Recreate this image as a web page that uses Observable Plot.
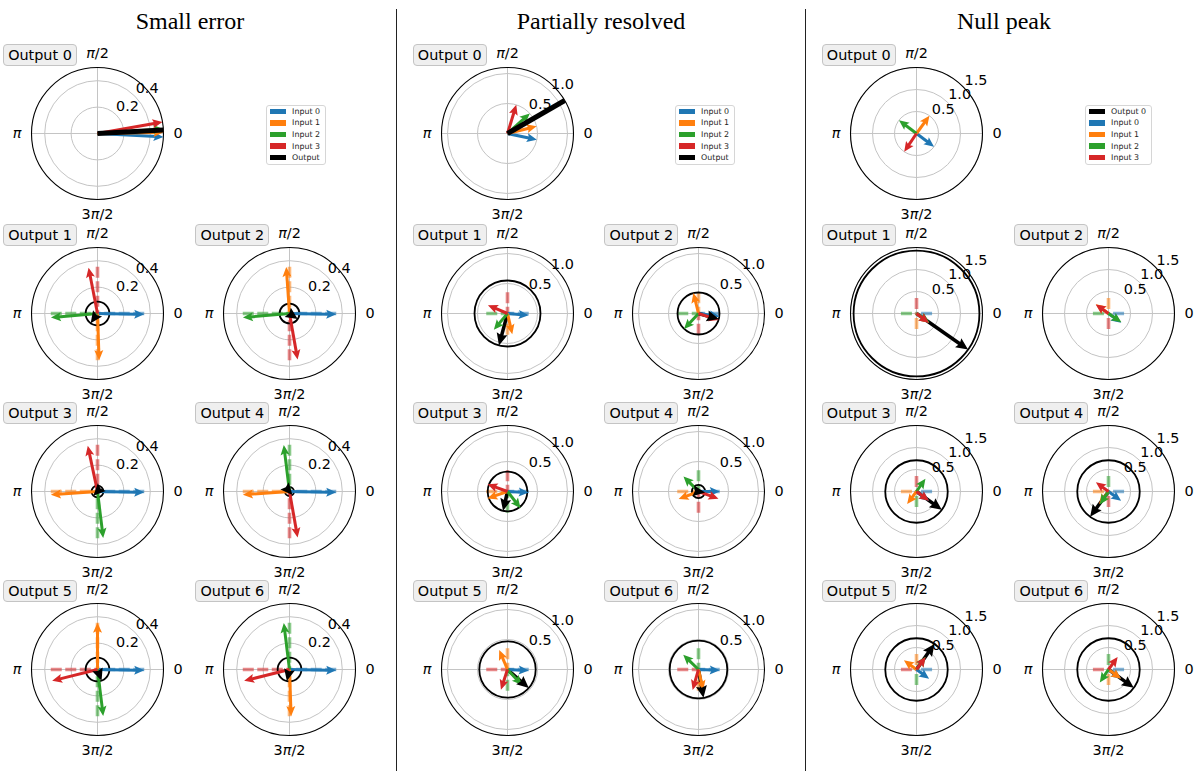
<!DOCTYPE html>
<html><head><meta charset="utf-8">
<script src="https://cdn.jsdelivr.net/npm/d3@7"></script>
<script src="https://cdn.jsdelivr.net/npm/@observablehq/plot@0.6"></script>
<style>
html,body{margin:0;padding:0;background:#fff;}
#fig{position:relative;width:1200px;height:777px;overflow:hidden;font-family:"DejaVu Sans",sans-serif;}
.title{position:absolute;top:8px;line-height:26px;font-family:"Liberation Serif",serif;font-size:24px;transform:translateX(-50%);white-space:nowrap;color:#000;}
.sep{position:absolute;top:9px;height:762px;width:1.2px;background:#222;}
.olabel{position:absolute;width:72px;height:20px;line-height:20px;border:1px solid #c4c4c4;border-radius:4px;background:#efefef;font-size:14.4px;text-align:center;color:#000;z-index:2;}
.legend{position:absolute;border:1px solid #d6d6d6;border-radius:3px;background:#fff;padding:0 5px 1px 2.3px;font-size:7.9px;color:#222;z-index:2;}
.legend .row{height:11.6px;display:flex;align-items:center;white-space:nowrap;}
.legend .sw{width:16.5px;height:5.5px;margin-right:6px;flex:none;}
</style></head><body><div id="fig"></div>
<script>
// ---------------- data ----------------
const panelTitles = ["Small error", "Partially resolved", "Null peak"];
const outputNames = ["Output 0", "Output 1", "Output 2", "Output 3", "Output 4", "Output 5", "Output 6"];
const inputNames = ["Input 0", "Input 1", "Input 2", "Input 3"];
const inputColors = ["#1f77b4", "#ff7f0e", "#2ca02c", "#d62728"];
const angleTicks = [0, 90, 180, 270];
const angleTickLabels = ["0", "π/2", "π", "3π/2"];

// ideal (target) phase of each input in each output, degrees (Output 0 has none)
const idealPhases = [null, [0, 270, 180, 90], [0, 90, 180, 270], [0, 180, 270, 90], [0, 180, 90, 270], [0, 90, 270, 180], [0, 270, 90, 180]];
const inputAmplitude = [0.5, 0.354, 0.354, 0.354, 0.354, 0.354, 0.354];

// Small error
const smallErrorRMax = 0.5;
const smallErrorTicks = [0.2, 0.4];
const smallErrorPhases = [
  [-3, 1, 4, 10],
  [-1, 272, 185, 101],
  [-1, 94, 185, 280],
  [-1, 184, 277, 102],
  [-1, 184, 97, 280],
  [-1, 90, 277, 194],
  [-1, 272, 97, 194]
];
const smallErrorOutAmp = [1.98, 0.09, 0.075, 0.045, 0.034, 0.09, 0.09];
const smallErrorOutPhase = [3, 235, 326, 225, 311, 290, 257];

// Partially resolved
const partialRMax = 1.1;
const partialTicks = [0.5, 1.0];
const partialPhases = [
  [-12, 14, 42, 73],
  [-5, 283, 230, 157],
  [-8, 104, 227, -18],
  [-3, 199, 308, 160],
  [0, 201, 135, -20],
  [-3, 113, 313, 252],
  [-2, 283, 136, 254]
];
const partialOutAmp = [1.71, 0.55, 0.35, 0.33, 0.11, 0.47, 0.48];
const partialOutPhase = [30, 255, 345, 257, 352, 319, 280];

// Null peak
const nullRMax = 1.5;
const nullTicks = [0.5, 1.0, 1.5];
const nullPhases = [
  [-37, 54, 143, 236],
  [-36, -37, -34, -37],
  [-36, 144, -34, 145],
  [-36, 233, 55, -36],
  [-36, 233, 236, 144],
  [-36, 144, 55, 54],
  [-36, -36, 236, 54]
];
const nullOutAmp = [0, 1.43, 0, 0.71, 0.71, 0.71, 0.71];
const nullOutPhase = [0, -35, 0, -36, 234, 55, -36];

const legendLabelsA = ["Input 0", "Input 1", "Input 2", "Input 3", "Output"];
const legendLabelsB = ["Output 0", "Input 0", "Input 1", "Input 2", "Input 3"];

// ---------------- layout ----------------
const R = 66, PW = 200, PH = 192;
const rowCY = [133.3, 313.3, 490.7, 669.3];
const colCX = [[97, 289.3], [506.7, 698.3], [915.7, 1108.3]];
const titleX = [190, 601, 1004];
const sepX = [396, 805];
const slot = [[0, 0], [1, 0], [1, 1], [2, 0], [2, 1], [3, 0], [3, 1]];
const GRID = "#c4c4c4";
const mkHead = (L, W, notch) => ({L, sym: {draw(ctx) {
  ctx.moveTo(0, 0); ctx.lineTo(-W / 2, L); ctx.lineTo(0, L * (1 - notch)); ctx.lineTo(W / 2, L); ctx.closePath();
}}});
const HEAD_IN = mkHead(10, 9, 0.2), HEAD_OUT = mkHead(12, 11, 0.15);
const cosd = a => Math.cos(a * Math.PI / 180), sind = a => Math.sin(a * Math.PI / 180);

const groups = [
  {rmax: smallErrorRMax, ticks: smallErrorTicks, phases: smallErrorPhases, outAmp: smallErrorOutAmp, outPhase: smallErrorOutPhase,
   legend: legendLabelsA.map((l, i) => [l, i < 4 ? inputColors[i] : "black"])},
  {rmax: partialRMax, ticks: partialTicks, phases: partialPhases, outAmp: partialOutAmp, outPhase: partialOutPhase,
   legend: legendLabelsA.map((l, i) => [l, i < 4 ? inputColors[i] : "black"])},
  {rmax: nullRMax, ticks: nullTicks, phases: nullPhases, outAmp: nullOutAmp, outPhase: nullOutPhase,
   legend: legendLabelsB.map((l, i) => [l, i === 0 ? "black" : inputColors[i - 1]])}
];

// returns [shaftMarks, headMarks]
function arrow(amp, phase, color, width, head, rmax, s) {
  const clipped = amp > rmax;
  const tip = Math.min(amp, rmax);
  const shaft = clipped ? tip : tip - 0.7 * head.L / s;
  const sh = [], hd = [];
  if (shaft > 0) sh.push(Plot.link([phase], {x1: () => 0, y1: () => 0, x2: d => shaft * cosd(d), y2: d => shaft * sind(d), stroke: color, strokeWidth: width}));
  if (!clipped) hd.push(Plot.dot([phase], {x: d => tip * cosd(d), y: d => tip * sind(d), symbol: head.sym, r: 4, rotate: d => 90 - d, fill: color, stroke: "none"}));
  return [sh, hd];
}

function makePanel(g, k) {
  const rmax = g.rmax, s = R / rmax;
  const marks = [];
  marks.push(Plot.dot(g.ticks, {x: () => 0, y: () => 0, r: d => d, fill: "none", stroke: GRID, strokeWidth: 1}));
  marks.push(Plot.link(angleTicks, {x1: () => 0, y1: () => 0, x2: d => rmax * cosd(d), y2: d => rmax * sind(d), stroke: GRID, strokeWidth: 1}));
  marks.push(Plot.dot([rmax], {x: () => 0, y: () => 0, r: d => d, fill: "none", stroke: "black", strokeWidth: 1.1}));
  if (idealPhases[k]) {
    const targets = idealPhases[k].map((p, i) => ({p, a: inputAmplitude[k], c: inputColors[i]}));
    marks.push(Plot.link(targets, {x1: d => d.a * cosd(d.p), y1: d => d.a * sind(d.p), x2: () => 0, y2: () => 0,
      stroke: d => d.c, strokeWidth: 3.6, strokeOpacity: 0.55, strokeDasharray: "11,3.5"}));
  }
  const oa = g.outAmp[k], op = g.outPhase[k];
  const inMarks = [];
  g.phases[k].forEach((p, i) => { const [sh, hd] = arrow(inputAmplitude[k], p, inputColors[i], 3, HEAD_IN, rmax, s); inMarks.push(...sh, ...hd); });
  if (oa > rmax) {
    const [sh] = arrow(oa, op, "black", 5, HEAD_OUT, rmax, s);
    marks.push(...inMarks, ...sh);
  } else if (oa > 0) {
    const [sh, hd] = arrow(oa, op, "black", 3.5, HEAD_OUT, rmax, s);
    marks.push(Plot.dot([oa], {x: () => 0, y: () => 0, r: d => d, fill: "none", stroke: "black", strokeWidth: 1.8}));
    marks.push(...sh, ...inMarks, ...hd);
  } else {
    marks.push(...inMarks);
  }
  marks.push(Plot.text(angleTicks, {x: d => 80.5 / s * cosd(d), y: d => 80.5 / s * sind(d), text: (d, i) => angleTickLabels[i], fontSize: 14.4, fill: "#000"}));
  marks.push(Plot.text(g.ticks, {x: d => (d + 14 / s) * cosd(42), y: d => (d + 14 / s) * sind(42), text: d => d.toFixed(1), fontSize: 14.4, fill: "#000"}));
  const svg = Plot.plot({
    width: PW, height: PH, margin: 0, axis: null,
    x: {domain: [-PW / 2 / s, PW / 2 / s]},
    y: {domain: [-PH / 2 / s, PH / 2 / s]},
    r: {type: "linear", domain: [0, rmax], range: [0, R]},
    color: {type: "identity"},
    style: {fontFamily: "DejaVu Sans", fontSize: "14.4px", background: "transparent", overflow: "visible"},
    marks
  });
  svg.querySelectorAll("text").forEach(t => {
    if (t.textContent.includes("π")) t.innerHTML = t.textContent.replace("π", '<tspan font-style="italic">π</tspan>');
  });
  return svg;
}

const fig = document.getElementById("fig");
sepX.forEach(x => { const d = document.createElement("div"); d.className = "sep"; d.style.left = x + "px"; fig.append(d); });
groups.forEach((g, gi) => {
  const t = document.createElement("div");
  t.className = "title"; t.style.left = titleX[gi] + "px"; t.textContent = panelTitles[gi];
  fig.append(t);
  outputNames.forEach((name, k) => {
    const [row, col] = slot[k];
    const cx = colCX[gi][col], cy = rowCY[row];
    const svg = makePanel(g, k);
    svg.style.position = "absolute";
    svg.style.left = (cx - PW / 2) + "px";
    svg.style.top = (cy - PH / 2) + "px";
    fig.append(svg);
    const lab = document.createElement("div");
    lab.className = "olabel"; lab.textContent = name;
    lab.style.left = (cx - 94) + "px"; lab.style.top = (cy - 89) + "px";
    fig.append(lab);
  });
  const lg = document.createElement("div");
  lg.className = "legend";
  lg.style.left = (colCX[gi][1] - 23) + "px"; lg.style.top = "104.5px";
  g.legend.forEach(([l, c]) => {
    const row = document.createElement("div"); row.className = "row";
    const sw = document.createElement("span"); sw.className = "sw"; sw.style.background = c;
    const tx = document.createElement("span"); tx.textContent = l;
    row.append(sw, tx); lg.append(row);
  });
  fig.append(lg);
});
</script></body></html>
